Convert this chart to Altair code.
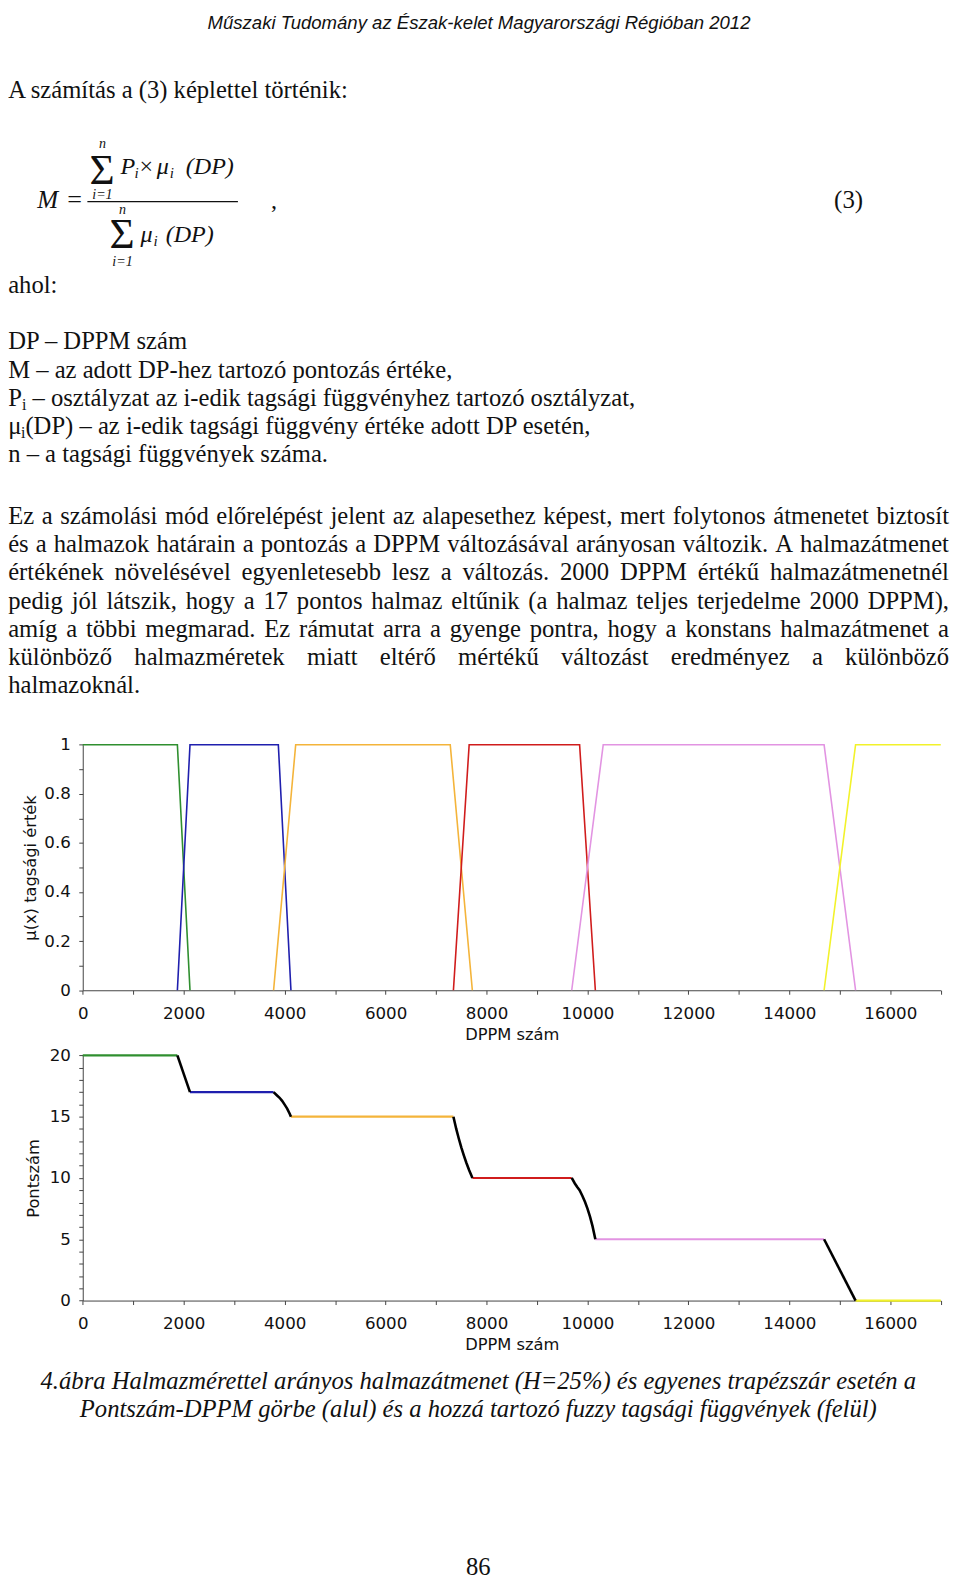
import altair as alt
import pandas as pd

# ------------------------------------------------------------------
# DATA
# ------------------------------------------------------------------
# membership functions (upper panel): breakpoints
green_dp = [0, 1875, 2125]
green_mu = [1, 1, 0]
blue_dp = [1875, 2125, 3875, 4125]
blue_mu = [0, 1, 1, 0]
orange_dp = [3781, 4219, 7281, 7719]
orange_mu = [0, 1, 1, 0]
red_dp = [7344, 7656, 9844, 10156]
red_mu = [0, 1, 1, 0]
pink_dp = [9688, 10312, 14688, 15312]
pink_mu = [0, 1, 1, 0]
yellow_dp = [14688, 15312, 17000]
yellow_mu = [0, 1, 1]

set_names = ["20 pont", "17 pont", "15 pont", "10 pont", "5 pont", "0 pont"]
set_colors = ["#2f8f2f", "#1f1fae", "#f4b43a", "#d01c1c", "#e294e2", "#f2f22a"]

# score curve (lower panel): flat parts
flat_start = [0, 2125, 4125, 7719, 10156, 15312]
flat_end = [1875, 3781, 7344, 9688, 14688, 17000]
flat_score = [20, 17, 15, 10, 5, 0]

# score curve: transition parts (black)
trans1_dp = [1875, 2125]
trans1_m = [20, 17]
trans2_dp = [3781, 3850, 3900, 3950, 4000, 4050, 4100, 4125]
trans2_m = [17, 16.73, 16.54, 16.29, 15.98, 15.66, 15.24, 15]
trans3_dp = [7344, 7400, 7450, 7500, 7550, 7600, 7656, 7700, 7719]
trans3_m = [15, 14.0, 13.22, 12.5, 11.85, 11.24, 10.63, 10.21, 10]
trans4_dp = [9688, 9750, 9800, 9844, 9900, 9950, 10000, 10050, 10100, 10156]
trans4_m = [10, 9.55, 9.24, 9.0, 8.53, 8.06, 7.5, 6.85, 6.07, 5]
trans5_dp = [14688, 15312]
trans5_m = [5, 0]

# axis ticks
x_ticks = [0, 1000, 2000, 3000, 4000, 5000, 6000, 7000, 8000, 9000, 10000,
           11000, 12000, 13000, 14000, 15000, 16000, 17000]
mu_ticks = [0, 0.1, 0.2, 0.3, 0.4, 0.5, 0.6, 0.7, 0.8, 0.9, 1.0]
score_ticks = [0, 1, 2, 3, 4, 5, 6, 7, 8, 9, 10, 11, 12, 13, 14, 15, 16, 17, 18, 19, 20]

# page texts
header_text = "Műszaki Tudomány az Észak-kelet Magyarországi Régióban 2012"
intro_text = "A számítás a (3) képlettel történik:"
ahol_text = "ahol:"
def_dp = "DP – DPPM szám"
def_m = "M – az adott DP-hez tartozó pontozás értéke,"
def_p_rest = "– osztályzat az i-edik tagsági függvényhez tartozó osztályzat,"
def_mu_rest = "(DP) – az i-edik tagsági függvény értéke adott DP esetén,"
def_n = "n – a tagsági függvények száma."
para_lines = [
    "Ez a számolási mód előrelépést jelent az alapesethez képest, mert folytonos átmenetet biztosít",
    "és a halmazok határain a pontozás a DPPM változásával arányosan változik. A halmazátmenet",
    "értékének növelésével egyenletesebb lesz a változás. 2000 DPPM értékű halmazátmenetnél",
    "pedig jól látszik, hogy a 17 pontos halmaz eltűnik (a halmaz teljes terjedelme 2000 DPPM),",
    "amíg a többi megmarad. Ez rámutat arra a gyenge pontra, hogy a konstans halmazátmenet a",
    "különböző halmazméretek miatt eltérő mértékű változást eredményez a különböző",
    "halmazoknál.",
]
caption_lines = [
    "4.ábra Halmazmérettel arányos halmazátmenet (H=25%) és egyenes trapézszár esetén a",
    "Pontszám-DPPM görbe (alul) és a hozzá tartozó fuzzy tagsági függvények (felül)",
]
page_number = "86"

# ------------------------------------------------------------------
# LAYOUT (page pixel coordinates; view = page - 8)
# ------------------------------------------------------------------
MG = 8
W, H = 951, 1576
K = 1.0111
FS = 24.8
SERIF = "Liberation Serif"
SANS = "DejaVu Sans"

X_LEFT, X_RIGHT = 83.3, 947.7        # page x of DPPM 0 and 17000
TOP_Y0, TOP_Y1 = 991.7, 744.3        # page y of mu 0 and 1
BOT_Y0, BOT_Y20 = 1304.3, 1057.3     # page y of score 0 and 20

# Times / Liberation Serif advance widths (1/1000 em) for justification
TW = {" ": 250, ",": 250, ".": 250, "-": 333, "–": 500, ":": 278, "(": 333, ")": 333,
      "%": 833, "=": 564, "μ": 500,
      "a": 444, "b": 500, "c": 444, "d": 500, "e": 444, "f": 333, "g": 500, "h": 500,
      "i": 278, "j": 278, "k": 500, "l": 278, "m": 778, "n": 500, "o": 500, "p": 500,
      "q": 500, "r": 333, "s": 389, "t": 278, "u": 500, "v": 500, "w": 722, "x": 500,
      "y": 500, "z": 444, "á": 444, "é": 444, "í": 278, "ó": 500, "ö": 500, "ő": 500,
      "ú": 500, "ü": 500, "ű": 500,
      "A": 722, "D": 722, "E": 611, "M": 889, "P": 556, "H": 722}


def tw(s, fs):
    return sum(TW.get(c, 500) for c in s) * fs / 1000.0


reg_left = []      # (text, x, y, fs): regular serif, left aligned
ita_left = []
ita_center = []
reg_center = []

L0 = 8.2
reg_left.append((intro_text, L0, 93, FS))
reg_left.append((ahol_text, L0, 289, FS))

def_base = [346, 374.5, 403, 431.5, 460]
reg_left.append((def_dp, L0, def_base[0], FS))
reg_left.append((def_m, L0, def_base[1], FS))
x = L0
reg_left.append(("P", x, def_base[2], FS)); x += tw("P", FS)
reg_left.append(("i", x, def_base[2] + 4, 16)); x += tw("i", 16) + tw(" ", FS)
reg_left.append((def_p_rest, x, def_base[2], FS))
x = L0
reg_left.append(("μ", x, def_base[3], FS)); x += tw("μ", FS) + 0.5
reg_left.append(("i", x, def_base[3] + 4, 16)); x += tw("i", 16)
reg_left.append((def_mu_rest, x, def_base[3], FS))
reg_left.append((def_n, L0, def_base[4], FS))

# justified paragraph
RIGHT = 956
para_base0, para_step = 521.7, 28.5
for k, line in enumerate(para_lines):
    yb = para_base0 + k * para_step
    if k == len(para_lines) - 1:
        reg_left.append((line, L0, yb, FS))
        continue
    words = line.split(" ")
    total = sum(tw(w, FS) for w in words)
    gap = (RIGHT - L0 - total) / (len(words) - 1)
    x = L0
    for w in words:
        reg_left.append((w, x, yb, FS))
        x += tw(w, FS) + gap

# formula (3): positions on a 0.989 grid, scaled by K
f_ita_left = [("M", 37, 201, 25),
              ("P", 120, 168, 24), ("i", 134, 172, 15), ("μ", 156, 168, 24), ("i", 169, 172, 15),
              ("(DP)", 185, 168, 24),
              ("μ", 140, 235, 24), ("i", 153, 239, 15), ("(DP)", 165, 235, 24)]
f_reg_left = [("=", 67, 201, 26), ("×", 139, 168, 24), ("Σ", 89, 177, 43), ("Σ", 109, 241, 43),
              (",", 270, 201, 24), ("(3)", 831, 201, FS)]
f_ita_center = [("n", 102, 142, 14), ("i=1", 102, 192, 14),
                ("n", 122, 207, 14), ("i=1", 122, 259, 14)]
ita_left += [(t, a * K, b * K, s * K) for t, a, b, s in f_ita_left]
reg_left += [(t, a * K, b * K, s * K) for t, a, b, s in f_reg_left]
ita_center += [(t, a * K, b * K, s * K) for t, a, b, s in f_ita_center]

ita_center += [(caption_lines[0], 481.8, 1393, FS), (caption_lines[1], 481.8, 1422, FS)]
reg_center += [(page_number, 481.8, 1581, FS)]


def text_layer(rows, font, style="normal", align="left"):
    df = pd.DataFrame(rows, columns=["text", "x", "y", "fs"])
    df["x"] = df["x"] - MG
    df["y"] = df["y"] - MG
    return alt.Chart(df).mark_text(font=font, fontStyle=style, align=align,
                                   baseline="alphabetic", color="#111").encode(
        x=alt.X("x:Q", scale=None, axis=None),
        y=alt.Y("y:Q", scale=None, axis=None),
        text="text:N",
        size=alt.Size("fs:Q", scale=None, legend=None),
    )


header_layer = text_layer([(header_text, 482.5, 23.5, 18.7)], "Liberation Sans", "italic", "center")
reg_left_layer = text_layer(reg_left, SERIF, "normal", "left")
ita_left_layer = text_layer(ita_left, SERIF, "italic", "left")
ita_center_layer = text_layer(ita_center, SERIF, "italic", "center")
reg_center_layer = text_layer(reg_center, SERIF, "normal", "center")

frac_rule = alt.Chart(pd.DataFrame({"k": [0]})).mark_rule(color="#111", strokeWidth=1.2).encode(
    x=alt.value(87 * K - MG), x2=alt.value(237 * K - MG), y=alt.value(195 * K - MG))

# ------------------------------------------------------------------
# PLOTS
# ------------------------------------------------------------------
def xscale():
    return alt.Scale(domain=[0, 17000], range=[X_LEFT - MG, X_RIGHT - MG], nice=False, zero=False)


axis_style = dict(grid=False, tickSize=4, tickColor="#444", domainColor="#444", tickWidth=1,
                  domainWidth=1, labelFont=SANS, labelFontSize=16.8, labelColor="#111",
                  titleFont=SANS, titleFontSize=16.4, titleFontWeight="normal", titleColor="#111",
                  labelOverlap=False, labelFlush=False)


def x_axis(axis_page_y):
    return alt.Axis(orient="bottom", offset=(axis_page_y - MG) - H, values=x_ticks,
                    labelExpr="datum.value % 2000 == 0 ? format(datum.value, 'd') : ''",
                    labelPadding=11, title="DPPM szám", titleY=44.5, titleBaseline="middle",
                    titleAlign="center", **axis_style)


top_y_axis = alt.Axis(orient="left", offset=-(X_LEFT - MG), values=mu_ticks,
                      labelExpr="round(datum.value * 10) % 2 == 0 ? format(datum.value, '~g') : ''",
                      labelPadding=8.5, title="μ(x) tagsági érték", titleX=-53,
                      titleY=(TOP_Y0 + TOP_Y1) / 2 - MG, titleAngle=270, titleBaseline="middle",
                      titleAlign="center", **axis_style)
bot_y_axis = alt.Axis(orient="left", offset=-(X_LEFT - MG), values=score_ticks,
                      labelExpr="datum.value % 5 == 0 ? format(datum.value, 'd') : ''",
                      labelPadding=8.5, title="Pontszám", titleX=-50,
                      titleY=(BOT_Y0 + BOT_Y20) / 2 - MG, titleAngle=270, titleBaseline="middle",
                      titleAlign="center", **axis_style)

mf_df = pd.concat([
    pd.DataFrame({"dp": d, "mu": m, "set": s})
    for d, m, s in zip([green_dp, blue_dp, orange_dp, red_dp, pink_dp, yellow_dp],
                       [green_mu, blue_mu, orange_mu, red_mu, pink_mu, yellow_mu],
                       set_names)
], ignore_index=True)

top_lines = alt.Chart(mf_df).mark_line(strokeWidth=1.6).encode(
    x=alt.X("dp:Q", scale=xscale(), axis=x_axis(TOP_Y0)),
    y=alt.Y("mu:Q", scale=alt.Scale(domain=[0, 1], range=[TOP_Y0 - MG, TOP_Y1 - MG], nice=False),
            axis=top_y_axis),
    color=alt.Color("set:N", scale=alt.Scale(domain=set_names, range=set_colors), legend=None),
    detail="set:N",
)

flat_df = pd.DataFrame({"start": flat_start, "end": flat_end, "score": flat_score, "set": set_names})
bot_scale = alt.Scale(domain=[0, 20], range=[BOT_Y0 - MG, BOT_Y20 - MG], nice=False)

bottom_flats = alt.Chart(flat_df).mark_rule(strokeWidth=2.2).encode(
    x=alt.X("start:Q", scale=xscale(), axis=x_axis(BOT_Y0)),
    x2="end:Q",
    y=alt.Y("score:Q", scale=bot_scale, axis=bot_y_axis),
    color=alt.Color("set:N", scale=alt.Scale(domain=set_names, range=set_colors), legend=None),
)

trans_df = pd.concat([
    pd.DataFrame({"dp": d, "m": m, "seg": i})
    for i, (d, m) in enumerate(zip([trans1_dp, trans2_dp, trans3_dp, trans4_dp, trans5_dp],
                                   [trans1_m, trans2_m, trans3_m, trans4_m, trans5_m]))
], ignore_index=True)

bottom_trans = alt.Chart(trans_df).mark_line(color="#000", strokeWidth=2.6).encode(
    x=alt.X("dp:Q", scale=xscale(), axis=None),
    y=alt.Y("m:Q", scale=alt.Scale(domain=[0, 20], range=[BOT_Y0 - MG, BOT_Y20 - MG], nice=False),
            axis=None),
    detail="seg:N",
)

chart = alt.layer(
    header_layer, reg_left_layer, ita_left_layer, ita_center_layer, reg_center_layer, frac_rule,
    top_lines, bottom_flats, bottom_trans,
).resolve_scale(
    x="independent", y="independent", color="independent"
).resolve_axis(
    x="independent", y="independent"
).properties(
    width=W, height=H, padding=0, autosize=alt.AutoSizeParams(type="none"), background="white"
).configure_view(stroke=None)

chart.save("out.html", embed_options={"renderer": "svg", "actions": False})
